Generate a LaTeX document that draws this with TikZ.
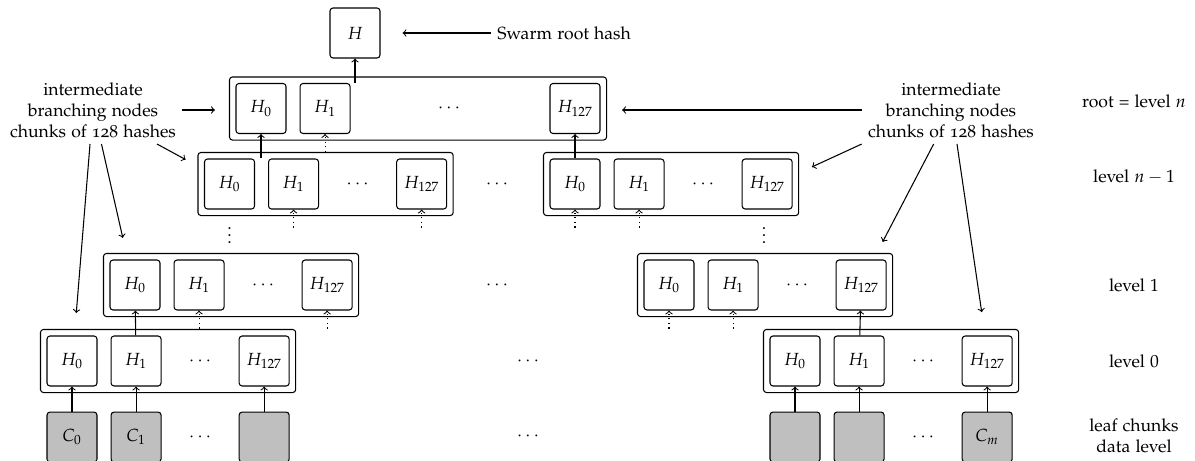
\documentclass[tikz,border=0pt]{standalone}
\usepackage[T1]{fontenc}
\usepackage[osf]{mathpazo}
\usetikzlibrary{positioning,fit,calc}
\tikzset{
  hashbox/.style={rectangle,draw,rounded corners=1.7pt,minimum size=10mm,inner sep=0pt},
  leafbox/.style={hashbox,fill=black!25},
  slot/.style={rectangle,minimum size=10mm,inner sep=0pt},
  chunkrow/.style={rectangle,draw,rounded corners=1.7pt,inner sep=1.2mm},
  stub/.style={->,dotted},
  note/.style={align=center},
}

\begin{document}
\begin{tikzpicture}[x=0.2mm,y=-0.2mm,node distance=5mm and 2.6mm,>=to,semithick]
  \useasboundingbox (0,0) rectangle (1195,461);
  % root hash
  \node[hashbox] (root) at (355,33) {$H$};
  \node[anchor=west] (swarm) at (491,33) {Swarm root hash};
  \draw[->,shorten >=4.4mm] (swarm) -- (root);
  % level n
  \node[hashbox] (n0) at (261,108.5) {$H_0$};
  \node[hashbox,right=of n0] (n1) {$H_1$};
  \node[slot] (ndots) at (449,108.5) {$\cdots$};
  \node[hashbox] (n127) at (575,108.5) {$H_{127}$};
  \node[chunkrow,fit=(n0)(n127)] (nrow) {};
  % level n-1
  \node[hashbox] (ma0) at (229.5,184) {$H_0$};
  \node[hashbox,right=of ma0] (ma1) {$H_1$};
  \node[slot,right=of ma1] (madots) {$\cdots$};
  \node[hashbox,right=of madots] (ma127) {$H_{127}$};
  \node[chunkrow,fit=(ma0)(ma127)] (marow) {};
  \node (mdots) at (497,184) {$\cdots$};
  \node[hashbox] (mb0) at (575,184) {$H_0$};
  \node[hashbox,right=of mb0] (mb1) {$H_1$};
  \node[slot,right=of mb1] (mbdots) {$\cdots$};
  \node[hashbox,right=of mbdots] (mb127) {$H_{127}$};
  \node[chunkrow,fit=(mb0)(mb127)] (mbrow) {};
  \node (mavd) at (229.5,230) {$\vdots$};
  \node (mbvd) at (764,230) {$\vdots$};
  % level 1
  \node[hashbox] (la0) at (135,285) {$H_0$};
  \node[hashbox,right=of la0] (la1) {$H_1$};
  \node[slot,right=of la1] (ladots) {$\cdots$};
  \node[hashbox,right=of ladots] (la127) {$H_{127}$};
  \node[chunkrow,fit=(la0)(la127)] (larow) {};
  \node (ldots) at (497,285) {$\cdots$};
  \node[hashbox] (lb0) at (669,285) {$H_0$};
  \node[hashbox,right=of lb0] (lb1) {$H_1$};
  \node[slot,right=of lb1] (lbdots) {$\cdots$};
  \node[hashbox,right=of lbdots] (lb127) {$H_{127}$};
  \node[chunkrow,fit=(lb0)(lb127)] (lbrow) {};
  % level 0
  \node[hashbox] (za0) at (72,361) {$H_0$};
  \node[hashbox,right=of za0] (za1) {$H_1$};
  \node[slot,right=of za1] (zadots) {$\cdots$};
  \node[hashbox,right=of zadots] (za127) {$H_{127}$};
  \node[chunkrow,fit=(za0)(za127)] (zarow) {};
  \node (zdots) at (528,361) {$\cdots$};
  \node[hashbox] (zb0) at (795,361) {$H_0$};
  \node[hashbox,right=of zb0] (zb1) {$H_1$};
  \node[slot,right=of zb1] (zbdots) {$\cdots$};
  \node[hashbox,right=of zbdots] (zb127) {$H_{127}$};
  \node[chunkrow,fit=(zb0)(zb127)] (zbrow) {};
  % leaf chunks
  \node[leafbox,below=of za0] (ca0) {$C_0$};
  \node[leafbox,right=of ca0] (ca1) {$C_1$};
  \node[slot,right=of ca1] (cadots) {$\cdots$};
  \node[leafbox,right=of cadots] (caN) {};
  \node (cdots) at (528,436) {$\cdots$};
  \node[leafbox,below=of zb0] (cb0) {};
  \node[leafbox,right=of cb0] (cb1) {};
  \node[slot,right=of cb1] (cbdots) {$\cdots$};
  \node[leafbox,right=of cbdots] (cbm) {$C_m$};
  % links
  \draw[->] (root.south |- n0.north) -- (root);
  \draw[->] (n0.south |- ma0.north) -- (n0);
  \draw[->] (mb0) -- (n127);
  \draw[->] (za1) -- (la0);
  \draw[->] (zb1) -- (lb127);
  \draw[->] (ca0) -- (za0);
  \draw[->] (ca1) -- (za1);
  \draw[->] (caN) -- (za127);
  \draw[->] (cb0) -- (zb0);
  \draw[->] (cb1) -- (zb1);
  \draw[->] (cbm) -- (zb127);
  % children not shown
  \coordinate[below=3.6mm of n1] (n1s); \draw[stub] (n1s) -- (n1);
  \coordinate[below=3.6mm of ma1] (ma1s); \draw[stub] (ma1s) -- (ma1);
  \coordinate[below=3.6mm of ma127] (ma127s); \draw[stub] (ma127s) -- (ma127);
  \coordinate[below=3.6mm of mb0] (mb0s); \draw[stub] (mb0s) -- (mb0);
  \coordinate[below=3.6mm of mb1] (mb1s); \draw[stub] (mb1s) -- (mb1);
  \coordinate[below=3.6mm of la1] (la1s); \draw[stub] (la1s) -- (la1);
  \coordinate[below=3.6mm of la127] (la127s); \draw[stub] (la127s) -- (la127);
  \coordinate[below=3.6mm of lb0] (lb0s); \draw[stub] (lb0s) -- (lb0);
  \coordinate[below=3.6mm of lb1] (lb1s); \draw[stub] (lb1s) -- (lb1);
  % notes
  \node[note] (lnote) at (93,110) {intermediate\\branching nodes\\chunks of 128 hashes};
  \draw[->,shorten >=2.8mm] (lnote.east) -- (lnote.east -| nrow.west);
  \draw[->,shorten >=2.7mm] (lnote.-28) -- (marow.172);
  \draw[->,shorten >=3.1mm] (lnote.-76) -- (larow.163);
  \draw[->,shorten >=3.2mm] (lnote.-95) -- (zarow.161);
  \node[note] (rnote) at (951,110) {intermediate\\branching nodes\\chunks of 128 hashes};
  \draw[->,shorten >=3mm] (rnote.west) -- (rnote.west -| nrow.east);
  \draw[->,shorten >=2.8mm] (rnote.south west) -- (mbrow.5);
  \draw[->,shorten >=2.5mm] (rnote.-117) -- (lbrow.16);
  \draw[->,shorten >=3.4mm] (rnote.-80) -- (zbrow.19);
  % level names
  \node (lvn) at (1134,101) {root = level $n$};
  \node (lvm) at (1134,177) {level $n-1$};
  \node (lv1) at (1134,285) {level $1$};
  \node (lv0) at (1134,361) {level $0$};
  \node[note] (lvc) at (1134,436) {leaf chunks\\data level};
\end{tikzpicture}
\end{document}
